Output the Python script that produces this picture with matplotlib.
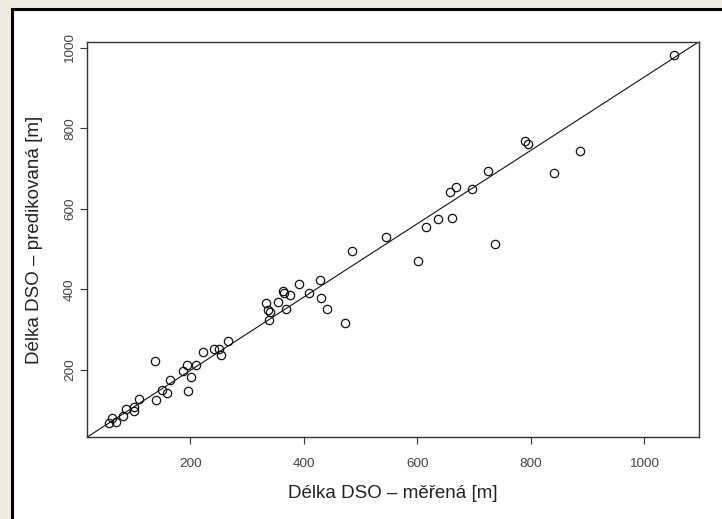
import matplotlib
matplotlib.use("Agg")
import matplotlib.pyplot as plt
from matplotlib.patches import Rectangle

plt.rcParams['font.family'] = ['Liberation Sans', 'DejaVu Sans']

measured = [57, 62, 68, 81, 87, 100, 100, 109, 137, 140, 149, 158, 164, 187,
            193, 195, 201, 210, 222, 241, 251, 253, 266,
            545, 485, 429, 391, 409, 364, 365, 375, 354, 333, 337, 340, 369,
            431, 440, 338, 473,
            602, 737, 790, 796, 887, 842, 724, 658, 668, 696, 615, 637, 661,
            1053]
predicted = [67, 79, 70, 84, 103, 107, 98, 128, 223, 125, 150, 143, 175, 196,
             211, 148, 181, 213, 245, 252, 253, 237, 272,
             531, 496, 424, 414, 390, 396, 391, 386, 368, 366, 348, 343, 351,
             379, 351, 325, 317,
             470, 513, 770, 762, 743, 689, 694, 643, 654, 650, 556, 576, 578,
             983]

# fitted line (intercept, slope)
fit_a, fit_b = 16.6, 0.911

x_ticks = [200, 400, 600, 800, 1000]
y_ticks = [200, 400, 600, 800, 1000]

fig = plt.figure(figsize=(7.22, 5.19), dpi=100)
fig.patch.set_facecolor('#eeebe1')
# white panel with black frame, runs off the right/bottom edge
fig.patches.append(Rectangle((12 / 722, -0.1), 1.2, 1.1 - 9 / 519,
                             transform=fig.transFigure, facecolor='white',
                             edgecolor='black', linewidth=2.2, zorder=-10))

ax = fig.add_axes([87.3 / 722, 1 - 437 / 519, 611.2 / 722, 395 / 519])
ax.set_facecolor('white')

ax.plot(measured, predicted, 'o', mfc='none', mec='#111111', ms=6, mew=0.9)
ax.axline((0, fit_a), slope=fit_b, color='#111111', lw=0.8)

ax.set_xlim(18, 1096)
ax.set_ylim(33, 1015)
ax.set_xticks(x_ticks)
ax.set_yticks(y_ticks)

for s in ax.spines.values():
    s.set_color('#333333')
    s.set_linewidth(1.0)

ax.tick_params(direction='out', length=5, width=0.8, color='#333333',
               labelsize=9.7, labelcolor='#444444')
ax.tick_params(axis='x', pad=10)
ax.tick_params(axis='y', pad=3)
for lab in ax.get_yticklabels():
    lab.set_rotation(90)
    lab.set_va('center')

ax.set_xlabel('Délka DSO – měřená [m]', fontsize=13.5, color='#222222')
ax.set_ylabel('Délka DSO – predikovaná [m]', fontsize=13.5, color='#222222')
ax.xaxis.label.set_va('center')
ax.yaxis.label.set_va('center')
ax.xaxis.set_label_coords(0.5, -0.142)
ax.yaxis.set_label_coords(-0.0856, 0.5)

fig.savefig('out.png', dpi=100, facecolor=fig.get_facecolor())
